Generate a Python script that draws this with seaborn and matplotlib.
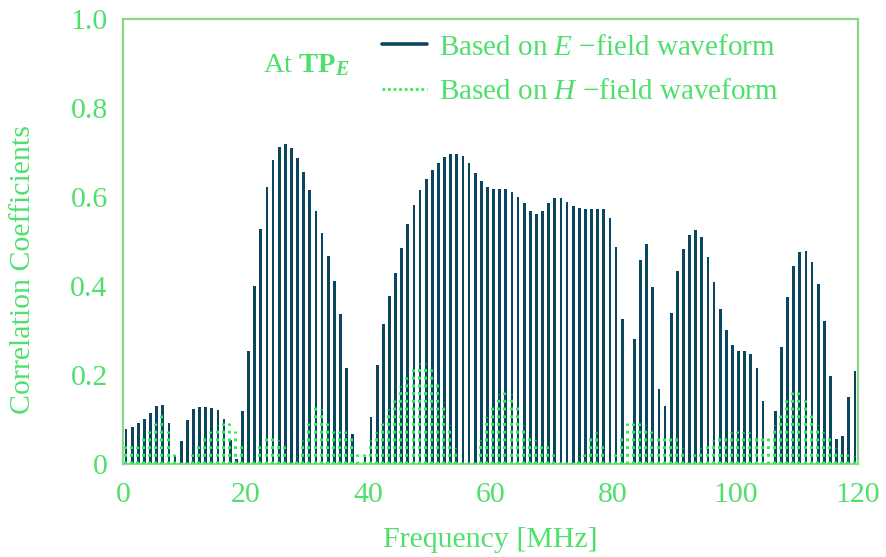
import numpy as np
import pandas as pd
import matplotlib
matplotlib.use("Agg")
import matplotlib.pyplot as plt
from matplotlib.lines import Line2D
import seaborn as sns

# Frequency bins (1 MHz wide), bars centred in each bin
freq_mhz = np.arange(1, 121) - 0.5

# Correlation coefficients based on the E-field waveform
corr_e = [
    0.079, 0.082, 0.091, 0.102, 0.115, 0.130, 0.133, 0.092, 0.020, 0.052,
    0.099, 0.123, 0.127, 0.128, 0.125, 0.121, 0.101, 0.055, 0.011, 0.120,
    0.255, 0.400, 0.528, 0.623, 0.683, 0.712, 0.718, 0.710, 0.688, 0.657,
    0.616, 0.569, 0.518, 0.467, 0.412, 0.336, 0.215, 0.067, 0.000, 0.015,
    0.105, 0.222, 0.314, 0.377, 0.429, 0.486, 0.539, 0.581, 0.615, 0.641,
    0.661, 0.677, 0.689, 0.697, 0.697, 0.691, 0.676, 0.654, 0.635, 0.623,
    0.619, 0.618, 0.617, 0.612, 0.600, 0.586, 0.569, 0.561, 0.568, 0.586,
    0.598, 0.598, 0.589, 0.580, 0.576, 0.574, 0.574, 0.574, 0.572, 0.552,
    0.488, 0.326, 0.000, 0.280, 0.458, 0.494, 0.398, 0.169, 0.130, 0.340,
    0.434, 0.482, 0.514, 0.525, 0.509, 0.466, 0.408, 0.349, 0.300, 0.267,
    0.254, 0.253, 0.248, 0.215, 0.142, 0.000, 0.119, 0.264, 0.375, 0.444,
    0.476, 0.479, 0.455, 0.404, 0.321, 0.197, 0.056, 0.063, 0.151, 0.210,
]

# Correlation coefficients based on the H-field waveform
corr_h = [
    0.040, 0.040, 0.040, 0.058, 0.075, 0.092, 0.109, 0.075, 0.023, 0.005,
    0.005, 0.023, 0.040, 0.058, 0.075, 0.088, 0.092, 0.092, 0.075, 0.040,
    0.005, 0.019, 0.040, 0.058, 0.058, 0.054, 0.040, 0.005, 0.019, 0.054,
    0.092, 0.127, 0.123, 0.092, 0.075, 0.075, 0.075, 0.058, 0.023, 0.023,
    0.054, 0.071, 0.092, 0.123, 0.144, 0.175, 0.196, 0.213, 0.227, 0.227,
    0.213, 0.179, 0.140, 0.088, 0.036, 0.005, 0.005, 0.005, 0.054, 0.106,
    0.127, 0.158, 0.161, 0.158, 0.127, 0.088, 0.058, 0.054, 0.040, 0.040,
    0.023, 0.005, 0.005, 0.005, 0.019, 0.023, 0.058, 0.071, 0.040, 0.005,
    0.023, 0.058, 0.092, 0.092, 0.092, 0.088, 0.075, 0.058, 0.058, 0.058,
    0.058, 0.036, 0.005, 0.023, 0.036, 0.040, 0.054, 0.058, 0.058, 0.071,
    0.075, 0.071, 0.071, 0.058, 0.058, 0.058, 0.088, 0.109, 0.144, 0.161,
    0.161, 0.144, 0.109, 0.088, 0.071, 0.058, 0.036, 0.023, 0.023, 0.019,
]

x_ticks = [0, 20, 40, 60, 80, 100, 120]
y_ticks = [0, 0.2, 0.4, 0.6, 0.8, 1.0]
y_tick_labels = ["0", "0.2", "0.4", "0.6", "0.8", "1.0"]

NAVY = "#0b4660"
TEXT_GREEN = "#4fe06c"
SPINE_GREEN = "#8ad98a"
DOT_GREEN = "#2ef05a"

sns.set_theme(style="white")
plt.rcParams["font.family"] = ["Liberation Serif", "DejaVu Serif"]
plt.rcParams["mathtext.fontset"] = "custom"
plt.rcParams["mathtext.rm"] = "Liberation Serif"
plt.rcParams["mathtext.it"] = "Liberation Serif:italic"
plt.rcParams["mathtext.bf"] = "Liberation Serif:bold"
plt.rcParams["mathtext.bfit"] = "Liberation Serif:italic:bold"

df = pd.DataFrame({"freq": freq_mhz, "E": corr_e, "H": corr_h})

fig, ax = plt.subplots(figsize=(8.87, 5.57), dpi=100)
fig.subplots_adjust(left=0.1387, right=0.9673, top=0.9659, bottom=0.167)

# E-field: solid narrow bars
sns.barplot(data=df, x="freq", y="E", native_scale=True, width=0.45,
            color=NAVY, saturation=1, linewidth=0, errorbar=None, ax=ax,
            zorder=2)

# H-field: square-dotted vertical lines drawn from zero upwards
hl = ax.vlines(df["freq"] - 0.22, 0, df["H"], colors=DOT_GREEN,
               linewidths=2.16, linestyles=[(0, (1, 1.57))], zorder=3)
hl.set_capstyle("butt")

ax.set_xlim(0, 120)
ax.set_ylim(0, 1.0)
ax.set_xticks(x_ticks)
ax.set_xticklabels([str(t) for t in x_ticks])
ax.set_yticks(y_ticks)
ax.set_yticklabels(y_tick_labels)
ax.tick_params(axis="both", length=0, labelsize=21.5, labelcolor=TEXT_GREEN)
ax.tick_params(axis="x", pad=13)
ax.tick_params(axis="y", pad=11)

ax.set_xlabel("Frequency [MHz]", fontsize=21.5, color=TEXT_GREEN)
ax.xaxis.set_label_coords(0.5, -0.141)
ax.set_ylabel("Correlation Coefficients", fontsize=21.5, color=TEXT_GREEN)
ax.yaxis.set_label_coords(-0.118, 0.438)

for sp in ax.spines.values():
    sp.set_visible(True)
    sp.set_color(SPINE_GREEN)
    sp.set_linewidth(1.6)

ax.text(0.25, 0.897, r"At $\mathbf{TP}_{\mathbfit{E}}$", transform=ax.transAxes,
        fontsize=20.5, color=TEXT_GREEN, ha="center", va="center")

handles = [
    Line2D([], [], color=NAVY, lw=2.6),
    Line2D([], [], color=DOT_GREEN, lw=2.0, linestyle=(0, (1, 1))),
]
labels = [r"Based on $E$ −field waveform", r"Based on $H$ −field waveform"]
leg = ax.legend(handles, labels, loc="upper left", bbox_to_anchor=(0.352, 0.966),
                frameon=False, fontsize=21, handlelength=1.55, handletextpad=0.4,
                labelspacing=0.62, borderpad=0, borderaxespad=0)
for t in leg.get_texts():
    t.set_color(TEXT_GREEN)

fig.savefig("out.png", dpi=100)
